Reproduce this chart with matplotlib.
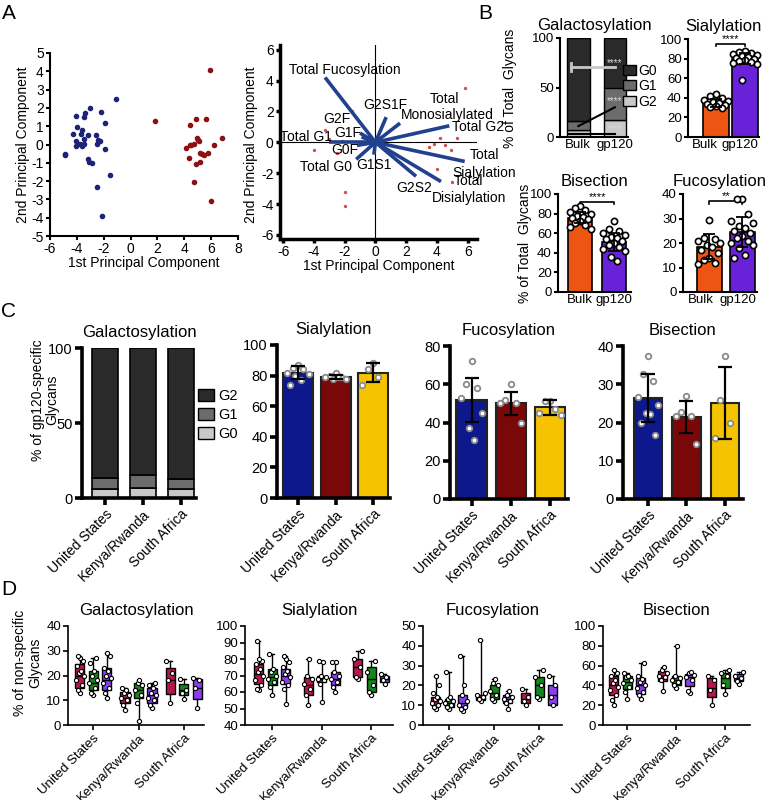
import matplotlib
matplotlib.use("Agg")
import matplotlib.pyplot as plt
import numpy as np
from matplotlib.patches import Patch

plt.rcParams['font.family'] = ['Liberation Sans', 'DejaVu Sans']
plt.rcParams['axes.unicode_minus'] = False

# ------------------------------------------------------------------ data
# Panel A - PCA scores
blue_pc1 = [-4.9, -4.9, -4.1, -4.0, -4.3, -4.1, -4.1, -3.8, -3.6, -3.7, -3.6,
            -3.5, -3.5, -3.5, -3.4, -3.2, -3.2, -3.1, -2.9, -3.0, -2.6, -2.5,
            -2.4, -2.3, -2.2, -1.9, -1.9, -2.5, -2.1, -1.5, -1.05]
blue_pc2 = [-0.5, -0.6, 1.55, 0.96, 0.55, 0.18, -0.1, 0.05, -0.1, 0.55, 0.78,
            0.31, 0.05, 1.5, 1.7, 0.5, -0.8, -0.95, -1.0, 2.0, 0.5, 0.05,
            0.27, 0.18, 1.8, 1.18, -0.27, -2.3, -3.9, -1.64, 2.47]
red_pc1 = [1.8, 5.95, 4.4, 4.9, 5.6, 4.15, 4.4, 4.5, 4.7, 4.95, 5.0, 5.1, 4.35,
           4.85, 5.2, 5.15, 5.35, 5.5, 5.75, 6.25, 6.8, 4.7, 6.0]
red_pc2 = [1.27, 4.05, 1.07, 1.42, 1.38, -0.18, 0.0, 0.0, 0.05, 0.36, 0.24, 0.18,
           -0.73, -1.04, -0.98, -0.49, -0.53, -0.58, -0.47, -0.04, 0.38, -2.04, -3.07]

# Panel A - biplot loadings
load_names = ['Total Fucosylation', 'G2S1F', 'Monosialylated', 'Total G2',
              'Total Sialylation', 'Total Disialylation', 'G2S2', 'G1S1',
              'Total G0', 'G0F', 'Total G1', 'G1F', 'G2F']
load_x = [-3.27, 0.7, 1.6, 4.8, 5.8, 4.26, 2.64, -0.1, -1.25, -1.2, -3.0, -0.9, -1.0]
load_y = [4.2, 1.63, 1.24, 1.07, -1.24, -2.54, -2.2, -0.8, -1.1, -0.2, 0.0, 0.35, 0.6]
biplot_pts_x = [-4.0, -3.3, -2.5, -2.0, -2.0, -1.5, 5.8, 4.0, 3.5, 4.5, 5.3, 4.2,
                3.8, 4.9, 5.0, -3.0, -2.2]
biplot_pts_y = [-0.5, 0.8, -0.7, -3.2, -4.1, 2.0, 3.5, -1.7, -0.3, -0.2, 0.3, 0.3,
                -0.1, -0.5, -2.6, 0.2, 0.1]

# Panel B - bulk vs gp120
b_groups = ['Bulk', 'gp120']
b_gal_g2 = [7, 17]
b_gal_g1 = [9, 33]
b_gal_g0 = [84, 50]
b_sia_mean = [35, 80]
b_sia_sd = [4, 6]
b_sia_dots = [[44, 42, 40, 38, 37, 36, 35, 34, 33, 32, 31, 30],
              [88, 87, 86, 85, 84, 83, 82, 81, 80, 79, 78, 77, 76, 75, 58]]
b_bis_mean = [76, 51]
b_bis_sd = [6, 9]
b_bis_dots = [[88, 86, 84, 82, 80, 78, 77, 76, 74, 72, 70, 68, 66, 64],
              [72, 64, 62, 60, 58, 56, 55, 54, 52, 50, 48, 46, 44, 42, 36, 32]]
b_fuc_mean = [18.5, 24.5]
b_fuc_sd = [5, 6]
b_fuc_dots = [[29.5, 22, 21.5, 21, 20, 19, 18.5, 17, 16, 14, 13, 12, 11.5],
              [38, 38, 32, 29, 28, 27, 26, 25, 24, 23, 22, 21, 20, 19, 18, 15, 14]]

# Panel C - gp120-specific by region
regions = ['United States', 'Kenya/Rwanda', 'South Africa']
c_gal_g0 = [6, 7, 6]
c_gal_g1 = [7.5, 8.5, 6.5]
c_gal_g2 = [86.5, 84.5, 87.5]
c_sia_mean = [82, 79, 82]
c_sia_sd = [4, 1.5, 6]
c_sia_dots = [[87, 85, 84, 82, 81, 80, 77, 74], [82, 80, 79, 79, 78, 78, 79], [88, 84, 79, 74]]
c_fuc_mean = [52, 50, 48]
c_fuc_sd = [11.5, 6, 4]
c_fuc_dots = [[72, 60, 58, 53, 45, 37, 31], [60, 52, 50, 50, 40], [51, 51, 47, 45, 44]]
c_bis_mean = [26.4, 21.5, 25]
c_bis_sd = [6.3, 4.2, 9.4]
c_bis_dots = [[37.5, 32.8, 30.8, 26.7, 24.7, 22.4, 22.1, 20, 16.8],
              [27, 22.8, 21.8, 21.8, 14.5], [37.5, 25.9, 19.9, 15.9]]

# Panel D - non-specific glycans, boxes (lo, q1, med, q3, hi) per region x 3 subgroups
d_gal_stats = [(13, 15, 20, 24.5, 28), (12, 14, 17, 22, 27), (11, 14, 18, 23, 29),
               (6, 9, 11, 13.5, 15), (1.5, 11, 14, 17, 18), (7, 9, 12, 15, 17),
               (9, 12.5, 18, 23, 26), (10.5, 12, 14, 16.5, 18.5), (7, 10.5, 15, 18.5, 19)]
d_sia_stats = [(61, 65, 71, 77, 91), (58, 64, 69, 74, 83), (53, 65, 70, 74, 82),
               (52, 58, 64, 69, 80), (54, 66, 68, 70, 79), (60, 64, 68, 72, 78),
               (68, 69, 75, 80, 85), (58, 60, 68, 75, 79), (65, 66, 68, 70, 71)]
d_fuc_stats = [(8, 10, 12, 14, 25), (8, 9, 11, 13, 27), (7, 9, 11, 15, 35),
               (12, 12.5, 14, 15, 43), (12, 13, 16, 20, 23), (8, 11, 13, 15, 17),
               (10, 11, 13, 16, 18), (13, 14, 20, 24, 28), (10, 10, 15, 20, 25)]
d_bis_stats = [(20, 30, 40, 49, 56), (26, 36, 43, 49, 53), (26, 31, 40, 47, 63),
               (34, 44, 50, 55, 59), (37, 40, 45, 50, 80), (32, 39, 48, 52, 54),
               (20, 28, 37, 47, 49), (31, 37, 47, 53, 56), (41, 44, 47, 52, 54)]
d_gal_dots = [[13, 14, 16, 18, 20, 21, 22, 24, 26, 27, 28], [12, 13, 15, 17, 18, 20, 22, 25, 27],
              [11, 13, 15, 17, 19, 20, 22, 23, 28, 29], [6, 8, 10, 11, 12, 13, 14, 15],
              [1.5, 9, 12, 14, 16, 17, 18], [7, 8, 10, 11, 12, 13, 15, 16, 17],
              [9, 18, 21, 26], [10.5, 13, 14, 18.5], [7, 15, 18, 19]]
d_sia_dots = [[61, 62, 64, 67, 70, 72, 74, 77, 79, 80, 91], [58, 63, 66, 68, 70, 72, 74, 83],
              [53, 62, 64, 66, 69, 71, 73, 75, 78, 80, 82], [52, 58, 62, 65, 68, 70, 80],
              [54, 65, 67, 68, 69, 70, 78, 79], [60, 63, 66, 68, 70, 72, 78, 78],
              [68, 69, 75, 80, 85], [58, 60, 64, 72, 79], [65, 67, 69, 71]]
d_fuc_dots = [[8, 9, 10, 11, 12, 13, 14, 16, 20, 25], [8, 9, 10, 11, 12, 13, 14, 27],
              [7, 8, 9, 10, 12, 15, 20, 35], [12, 13, 14, 15, 16, 43],
              [12, 13, 15, 17, 20, 21, 23], [8, 11, 12, 13, 14, 15, 17],
              [10, 12, 14, 18], [13, 14, 20, 24, 28], [10, 14, 20, 25]]
d_bis_dots = [[20, 25, 30, 35, 38, 42, 45, 49, 53, 56], [26, 33, 38, 42, 45, 48, 50, 53],
              [26, 30, 33, 37, 40, 43, 46, 50, 63], [34, 45, 48, 50, 53, 56, 59],
              [37, 40, 43, 45, 47, 50, 80], [32, 34, 45, 48, 51, 53, 54],
              [20, 35, 45, 49], [31, 40, 50, 53, 56], [41, 44, 47, 50, 54]]

# ------------------------------------------------------------------ styles
W, H = 770, 800
fig = plt.figure(figsize=(W / 100, H / 100), dpi=100)

NAVY_PT = '#1c2378'
RED_PT = '#8e1010'
VEC = '#21408f'
ORANGE = '#ee5512'
PURPLE = '#6a22d8'
C_COLS = ['#0c188c', '#7a0808', '#f5c300']
D_COLS = ['#b5174e', '#14861c', '#8a3ef0']
G_DARK, G_MID, G_LIGHT = '#2a2a2a', '#6c6c6c', '#c9c9c9'


def add_ax(l, t, r, b):
    return fig.add_axes([l / W, 1 - b / H, (r - l) / W, (b - t) / H])


def ftext(x, y, s, **kw):
    fig.text(x / W, 1 - y / H, s, **kw)


def style(ax, lw=1.5, tl=4, fs=10):
    for s in ['top', 'right']:
        ax.spines[s].set_visible(False)
    for s in ['left', 'bottom']:
        ax.spines[s].set_linewidth(lw)
    ax.tick_params(width=lw, length=tl, labelsize=fs, pad=1.5)


def spread(n, width):
    pat = [0, -1, 1, -2, 2, -0.5, 0.5, -1.5, 1.5]
    return np.array([pat[i % len(pat)] * width / 4.5 for i in range(n)])


# ------------------------------------------------------------------ panel letters
ftext(2, 4, 'A', fontsize=15, va='top')
ftext(478, 4, 'B', fontsize=15, va='top')
ftext(1, 302, 'C', fontsize=15, va='top')
ftext(1, 580, 'D', fontsize=15, va='top')

# ------------------------------------------------------------------ A1 scatter
ax = add_ax(50, 53, 238, 236)
ax.scatter(blue_pc1, blue_pc2, s=9, color=NAVY_PT, zorder=3, clip_on=False)
ax.scatter(red_pc1, red_pc2, s=9, color=RED_PT, zorder=3, clip_on=False)
ax.set_xlim(-6, 8)
ax.set_ylim(-5, 5)
ax.set_xticks(range(-6, 9, 2))
ax.set_yticks(range(-5, 6, 1))
style(ax, lw=1.5, tl=3, fs=10)
ax.set_xlabel('1st Principal Component', fontsize=10, labelpad=0)
ax.set_ylabel('2nd Principal Component', fontsize=10, labelpad=1)

# ------------------------------------------------------------------ A2 biplot
ax = add_ax(280, 45, 477, 239)
ax.set_xlim(-6.2, 6.6)
ax.set_ylim(-6.26, 6.3)
ax.axhline(0, color='k', lw=0.8, zorder=1)
ax.axvline(0, color='k', lw=0.8, zorder=1)
ax.scatter(biplot_pts_x, biplot_pts_y, s=2, color='#d05050', zorder=1)
for x, y in zip(load_x, load_y):
    ax.plot([0, x], [0, y], color=VEC, lw=2.6, solid_capstyle='butt', zorder=2)
labels_pos = [('Total Fucosylation', -5.6, 4.67), ('G2S1F', -0.82, 2.43),
              ('Total', 3.5, 2.8), ('Monosialylated', 1.67, 1.74),
              ('Total G2', 4.96, 1.02), ('G2F', -3.4, 1.52), ('G1F', -2.7, 0.6),
              ('Total G1', -6.2, 0.33), ('G0F', -2.9, -0.5), ('Total G0', -4.93, -1.6),
              ('G1S1', -1.25, -1.48), ('G2S2', 1.38, -2.93), ('Total', 6.15, -0.83),
              ('Sialylation', 5.0, -1.96), ('Total', 5.06, -2.5),
              ('Disialylation', 3.7, -3.6)]
for s, x, y in labels_pos:
    ax.text(x, y, s, fontsize=10, ha='left', va='center', zorder=4)
ax.set_xticks(range(-6, 7, 2))
ax.set_yticks(range(-6, 7, 2))
style(ax, lw=2.5, tl=3, fs=10)
ax.set_xlabel('1st Principal Component', fontsize=10, labelpad=0)
ftext(251, 145, '2nd Principal Component', fontsize=10, rotation=90, ha='center', va='center')

# ------------------------------------------------------------------ B galactosylation
ax = add_ax(560, 38, 628, 137)
xb = np.arange(2)
ax.bar(xb, b_gal_g2, 0.62, color=G_LIGHT, edgecolor='k', lw=1)
ax.bar(xb, b_gal_g1, 0.62, bottom=b_gal_g2, color=G_MID, edgecolor='k', lw=1)
ax.bar(xb, b_gal_g0, 0.62, bottom=np.add(b_gal_g2, b_gal_g1), color=G_DARK, edgecolor='k', lw=1)
ax.plot([-0.2, 1.0], [71, 71], color='#c8c8c8', lw=2, zorder=4)
ax.plot([-0.2, -0.2], [67, 75], color='#c8c8c8', lw=2, zorder=4)
ax.plot([0, 1.0], [11, 30], color='k', lw=1.5, zorder=4)
ax.plot([-0.25, 1.0], [3, 3], color='k', lw=1.5, zorder=4)
for yy in [75, 36, 8]:
    ax.text(1, yy, '****', color='#d8d8d8', fontsize=7, ha='center', va='center', zorder=5)
ax.set_xlim(-0.5, 1.36)
ax.set_ylim(0, 100)
ax.set_yticks([0, 50, 100])
ax.set_xticks(xb)
ax.set_xticklabels(b_groups)
style(ax, lw=1.5, tl=3, fs=9.5)
ax.tick_params(axis='x', length=0)
ax.set_title('Galactosylation', fontsize=12, pad=6)
ftext(510, 88, '% of Total  Glycans', fontsize=10, rotation=90, ha='center', va='center')
leg = ax.legend(handles=[Patch(facecolor=G_DARK, edgecolor='k', label='G0'),
                         Patch(facecolor=G_MID, edgecolor='k', label='G1'),
                         Patch(facecolor=G_LIGHT, edgecolor='k', label='G2')],
                loc='upper left', bbox_to_anchor=(0.93, 0.74), frameon=False,
                fontsize=10, handlelength=0.9, handleheight=0.7, handletextpad=0.2,
                labelspacing=0.1, borderpad=0, borderaxespad=0)


def b_bar(ax, means, sds, dots, ymax, yticks, sig, sig_y, width, label_pos):
    xs = np.arange(2)
    ax.bar(xs, means, width, color=[ORANGE, PURPLE], edgecolor='k', lw=1.2, zorder=1)
    for i in range(2):
        d = dots[i]
        ax.scatter(i + spread(len(d), width), d, s=20, facecolor='white',
                   edgecolor='k', lw=1.2, zorder=3, clip_on=False)
    ax.errorbar(xs, means, yerr=sds, fmt='none', ecolor='k', elinewidth=1.3,
                capsize=4, capthick=1.3, zorder=4)
    ax.plot([0, 0, 1, 1], [sig_y - ymax * 0.025, sig_y, sig_y, sig_y - ymax * 0.025],
            color='k', lw=1.2, clip_on=False)
    ax.text(0.5, sig_y, sig, fontsize=8, ha='center', va='bottom')
    ax.set_ylim(0, ymax)
    ax.set_yticks(yticks)
    ax.set_xticks(label_pos)
    ax.set_xticklabels(b_groups)
    style(ax, lw=1.5, tl=3, fs=9.5)
    ax.tick_params(axis='x', length=0, labelsize=9.5)


ax = add_ax(688, 39, 759, 137)
b_bar(ax, b_sia_mean, b_sia_sd, b_sia_dots, 100, range(0, 101, 20), '****', 95, 0.9,
      [-0.37, 0.83])
ax.set_xlim(-0.95, 1.47)
ax.set_title('Sialylation', fontsize=12, pad=6)

ax = add_ax(558, 194, 631, 292)
b_bar(ax, b_bis_mean, b_bis_sd, b_bis_dots, 100, range(0, 101, 20), '****', 92, 0.7,
      [0, 1])
ax.set_xlim(-0.65, 1.5)
ax.set_title('Bisection', fontsize=12, pad=6)
ftext(525, 243, '% of Total  Glycans', fontsize=10, rotation=90, ha='center', va='center')

ax = add_ax(683, 194, 757, 292)
b_bar(ax, b_fuc_mean, b_fuc_sd, b_fuc_dots, 40, range(0, 41, 10), '**', 37, 0.75,
      [-0.25, 0.88])
ax.set_xlim(-0.8, 1.45)
ax.set_title('Fucosylation', fontsize=12, pad=6)

# ------------------------------------------------------------------ C panels
xc = np.arange(3)


def c_style(ax):
    style(ax, lw=2.6, tl=5, fs=10.5)
    ax.set_xticks(xc)
    ax.set_xticklabels(regions, rotation=45, ha='right', rotation_mode='anchor', fontsize=10)


ax = add_ax(82, 348, 196, 498)
ax.bar(xc, c_gal_g0, 0.7, color=G_LIGHT, edgecolor='k', lw=1.2)
ax.bar(xc, c_gal_g1, 0.7, bottom=c_gal_g0, color=G_MID, edgecolor='k', lw=1.2)
ax.bar(xc, c_gal_g2, 0.7, bottom=np.add(c_gal_g0, c_gal_g1), color=G_DARK, edgecolor='k', lw=1.2)
ax.set_xlim(-0.61, 2.4)
ax.set_ylim(0, 100)
ax.set_yticks([0, 50, 100])
c_style(ax)
ax.set_title('Galactosylation', fontsize=12, pad=8)
ax.legend(handles=[Patch(facecolor=G_DARK, edgecolor='k', label='G2'),
                   Patch(facecolor=G_MID, edgecolor='k', label='G1'),
                   Patch(facecolor=G_LIGHT, edgecolor='k', label='G0')],
          loc='upper left', bbox_to_anchor=(1.02, 0.73), frameon=False,
          fontsize=10.5, handlelength=1.1, handleheight=0.9, handletextpad=0.3,
          labelspacing=0.35, borderpad=0, borderaxespad=0)
ftext(38, 400, '% of gp120-specific', fontsize=10, rotation=90, ha='center', va='center')
ftext(52, 400, 'Glycans', fontsize=10, rotation=90, ha='center', va='center')


def c_bar(ax, means, sds, dots, ymax, yticks, width):
    ax.bar(xc, means, width, color=C_COLS, edgecolor='#222222', lw=1.5, zorder=1)
    for i in range(3):
        d = dots[i]
        ax.scatter(i + spread(len(d), width * 0.8), d, s=16, facecolor='white',
                   edgecolor='#8a8a8a', lw=1.3, zorder=3)
    ax.errorbar(xc, means, yerr=sds, fmt='none', ecolor='k', elinewidth=1.6,
                capsize=5, capthick=1.6, zorder=4)
    ax.set_ylim(0, ymax)
    ax.set_yticks(yticks)
    c_style(ax)


ax = add_ax(277, 345, 390, 498)
c_bar(ax, c_sia_mean, c_sia_sd, c_sia_dots, 100, range(0, 101, 20), 0.8)
ax.set_xlim(-0.56, 2.45)
ax.set_title('Sialylation', fontsize=12, pad=8)

ax = add_ax(450, 346, 568, 499)
c_bar(ax, c_fuc_mean, c_fuc_sd, c_fuc_dots, 80, range(0, 81, 20), 0.77)
ax.set_xlim(-0.55, 2.46)
ax.set_title('Fucosylation', fontsize=12, pad=8)

ax = add_ax(623, 346, 743, 499)
c_bar(ax, c_bis_mean, c_bis_sd, c_bis_dots, 40, range(0, 41, 10), 0.73)
ax.set_xlim(-0.65, 2.47)
ax.set_title('Bisection', fontsize=12, pad=8)

# ------------------------------------------------------------------ D panels


def d_box(l, r, c0, sp, stats, dots, ylim, yticks, title):
    ax = add_ax(l, 626, r, 725)
    off = 13.5 / sp
    w = 9.0 / sp
    pos = [g + (k - 1) * off for g in range(3) for k in range(3)]
    bstats = [dict(whislo=s[0], q1=s[1], med=s[2], q3=s[3], whishi=s[4], fliers=[])
              for s in stats]
    res = ax.bxp(bstats, positions=pos, widths=w, patch_artist=True, showfliers=False,
                 boxprops=dict(edgecolor='k', linewidth=1.0),
                 medianprops=dict(color='k', linewidth=1.0),
                 whiskerprops=dict(color='k', linewidth=1.0),
                 capprops=dict(color='k', linewidth=1.0), capwidths=w * 0.4,
                 manage_ticks=False)
    for i, b in enumerate(res['boxes']):
        b.set_facecolor(D_COLS[i % 3])
    for p, d in zip(pos, dots):
        ax.scatter(p + spread(len(d), w), d, s=9, facecolor='white', edgecolor='k',
                   lw=0.8, zorder=3)
    ax.set_xlim((l - c0) / sp, (r - c0) / sp)
    ax.set_ylim(*ylim)
    ax.set_yticks(yticks)
    ax.set_xticks(range(3))
    ax.set_xticklabels(regions, rotation=45, ha='right', rotation_mode='anchor', fontsize=9)
    style(ax, lw=1.2, tl=3.5, fs=9.5)
    ax.set_title(title, fontsize=12, pad=8)
    return ax


d_box(68, 204, 93, 45.5, d_gal_stats, d_gal_dots, (0, 40), range(0, 41, 10), 'Galactosylation')
d_box(245, 393, 272, 49.5, d_sia_stats, d_sia_dots, (40, 100), range(40, 101, 10), 'Sialylation')
d_box(423, 562, 449, 45, d_fuc_stats, d_fuc_dots, (0, 50), range(0, 51, 10), 'Fucosylation')
d_box(603, 750, 627, 49, d_bis_stats, d_bis_dots, (0, 100), range(0, 101, 20), 'Bisection')
ftext(20, 663, '% of non-specific', fontsize=10, rotation=90, ha='center', va='center')
ftext(35, 663, 'Glycans', fontsize=10, rotation=90, ha='center', va='center')

fig.savefig('out.png', dpi=100)
